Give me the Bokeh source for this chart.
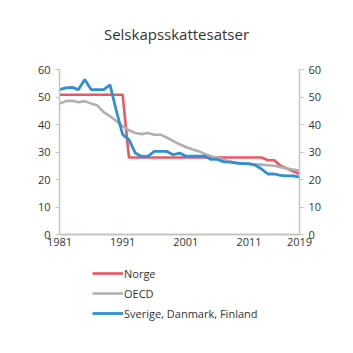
import math
from bokeh.plotting import figure
from bokeh.models import (Range1d, LinearAxis, FixedTicker, Legend, LegendItem,
                          Label)
from bokeh.layouts import column
from bokeh.embed import file_html
from bokeh.resources import INLINE

title_text = "Selskapsskattesatser"
years = list(range(1981, 2020))
norge = [50.8, 50.8, 50.8, 50.8, 50.8, 50.8, 50.8, 50.8, 50.8, 50.8, 50.8,
         28, 28, 28, 28, 28, 28, 28, 28, 28, 28, 28, 28, 28, 28, 28, 28, 28,
         28, 28, 28, 28, 28, 27, 27, 25, 24, 23, 22]
oecd = [47.6, 48.5, 48.6, 48.1, 48.5, 47.6, 46.9, 44.5, 43.0, 41.3, 39.4,
        37.9, 36.9, 36.5, 36.9, 36.3, 36.3, 35.2, 34.0, 32.8, 31.8, 31.0,
        30.3, 29.3, 28.5, 27.8, 27.3, 26.5, 26.0, 25.8, 25.6, 25.5, 25.4,
        25.2, 25.0, 24.5, 24.0, 23.6, 23.3]
nordic = [52.7, 53.3, 53.5, 52.7, 56.4, 52.7, 52.7, 52.7, 54.4, 45.0, 36.3,
          34.5, 29.6, 28.4, 28.4, 30.2, 30.2, 30.2, 29.0, 29.6, 28.5, 28.5,
          28.5, 28.5, 27.3, 27.3, 26.4, 26.3, 26.0, 25.8, 25.8, 25.2, 23.8,
          22.0, 22.0, 21.5, 21.3, 21.3, 20.9]
x_ticks = [1981, 1991, 2001, 2011, 2019]
y_ticks = [0, 10, 20, 30, 40, 50, 60]
labels = ["Norge", "OECD", "Sverige, Danmark, Finland"]
colors = ["#ef5560", "#b0b0b0", "#2f8fd5"]
widths = [2.6, 2.6, 2.8]

FONT = "Open Sans"
TXT = "#333333"
AX = "#c4c4c4"


def blank(h):
    f = figure(width=353, height=h, output_backend="svg", toolbar_location=None,
               x_axis_location=None, y_axis_location=None,
               x_range=Range1d(0, 1), y_range=Range1d(0, 1),
               min_border_left=0, min_border_right=0, min_border_top=0,
               min_border_bottom=0)
    f.outline_line_color = None
    f.xgrid.visible = False
    f.ygrid.visible = False
    f.border_fill_color = "white"
    return f


# title figure
t = blank(60)
t.add_layout(Label(x=0.5, y=0.45, text=title_text, text_align="center",
                   text_baseline="middle", x_offset=-3, text_font=FONT,
                   text_font_size="15px", text_color=TXT))

p = figure(width=353, height=205, output_backend="svg", toolbar_location=None,
           x_range=Range1d(1981, 2019), y_range=Range1d(0, 60),
           min_border_left=59, min_border_right=54, min_border_top=9,
           min_border_bottom=31, x_axis_location="below")
p.outline_line_color = None
p.xgrid.visible = False
p.ygrid.visible = False
p.background_fill_color = "white"
p.border_fill_color = "white"

xa = p.xaxis[0]
xa.ticker = FixedTicker(ticks=x_ticks)
xa.major_tick_out = 0
xa.major_tick_in = 0
xa.minor_tick_out = 0
xa.minor_tick_in = 0
xa.axis_line_color = AX
xa.axis_line_width = 2
xa.major_label_text_font = FONT
xa.major_label_text_font_size = "11px"
xa.major_label_text_color = TXT
xa.major_label_standoff = 3

ya = p.yaxis[0]
ra = LinearAxis()
p.add_layout(ra, "right")
for a in (ya, ra):
    a.ticker = FixedTicker(ticks=y_ticks)
    a.major_tick_out = 4
    a.major_tick_in = 0
    a.minor_tick_out = 0
    a.minor_tick_in = 0
    a.axis_line_color = AX
    a.axis_line_width = 1.5
    a.major_tick_line_color = AX
    a.major_label_text_font = FONT
    a.major_label_text_font_size = "11px"
    a.major_label_text_color = TXT
    a.major_label_standoff = 5

series = [norge, oecd, nordic]
for vals, c, w in zip(series, colors, widths):
    p.line(years, vals, line_color=c, line_width=w)

# legend figure
q = blank(88)
items = []
for lab, c, w in zip(labels, colors, widths):
    r = q.line(x=[math.nan, math.nan], y=[math.nan, math.nan],
               line_color=c, line_width=w)
    items.append(LegendItem(label=lab, renderers=[r]))

legend = Legend(items=items, location=(33, 30), orientation="vertical")
legend.background_fill_alpha = 0
legend.border_line_alpha = 0
legend.padding = 0
legend.margin = 0
legend.spacing = 0
legend.glyph_width = 31
legend.glyph_height = 20
legend.label_height = 20
legend.label_standoff = 1
legend.label_text_font = FONT
legend.label_text_font_size = "11px"
legend.label_text_color = TXT
q.add_layout(legend)

layout = column(t, p, q, spacing=0)
open("out.html", "w").write(file_html(layout, INLINE))
